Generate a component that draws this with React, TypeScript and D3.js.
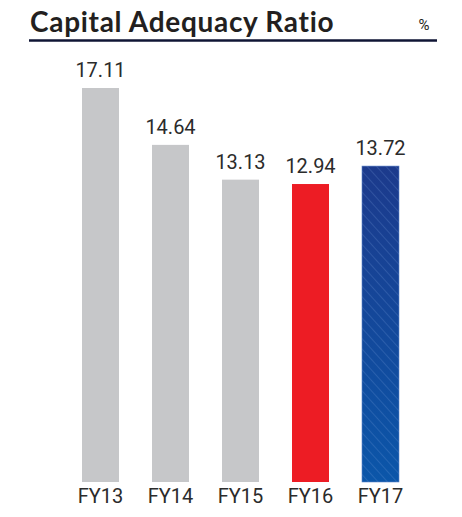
import React from "react";
import * as d3 from "d3";

const categories = ["FY13", "FY14", "FY15", "FY16", "FY17"];
const values = [17.11, 14.64, 13.13, 12.94, 13.72];
const valueLabels = ["17.11", "14.64", "13.13", "12.94", "13.72"];
const barKinds = ["grey", "grey", "grey", "red", "blue"];

const W = 462;
const H = 517;

export default function App() {
  const x = d3.scaleBand<string>().domain(categories).range([82, 399]).paddingInner(0.4714).paddingOuter(0);
  const y = d3.scaleLinear().domain([0, 17.11]).range([482, 88]);
  const fillFor = (k: string) =>
    k === "grey" ? "#c6c7c9" : k === "red" ? "#ed1c24" : "url(#blueGrad)";
  const numFont = "Roboto, 'Noto Sans', sans-serif";
  return (
    <svg
      width={W}
      height={H}
      style={{ position: "absolute", left: 0, top: 0, background: "#fff" }}
    >
      <defs>
        <linearGradient id="blueGrad" x1="0" y1="0" x2="0" y2="1">
          <stop offset="0%" stopColor="#1c3a8c" />
          <stop offset="100%" stopColor="#0b56a9" />
        </linearGradient>
        <pattern
          id="hatch"
          patternUnits="userSpaceOnUse"
          width="7"
          height="7"
          patternTransform="rotate(-42)"
        >
          <line x1="0" y1="0" x2="0" y2="7" stroke="#7ea6e0" strokeWidth="0.8" strokeOpacity="0.55" />
        </pattern>
      </defs>
      <text
        x={30}
        y={32}
        fontFamily="Lato, 'Open Sans', sans-serif"
        fontWeight="bold"
        fontSize={28}
        letterSpacing={0.7}
        fill="#231f20"
      >
        Capital Adequacy Ratio
      </text>
      <text x={424} y={30} fontFamily={numFont} fontSize={15} fill="#231f20" textAnchor="middle">
        %
      </text>
      <line x1={29} x2={437} y1={40.5} y2={40.5} stroke="#0f1535" strokeWidth={2.5} />
      {categories.map((c, i) => {
        const bx = x(c)!;
        const by = y(values[i]);
        const bh = y(0) - by;
        const cx = bx + x.bandwidth() / 2;
        return (
          <g key={c}>
            <rect x={bx} y={by} width={x.bandwidth()} height={bh} fill={fillFor(barKinds[i])} />
            {barKinds[i] === "blue" && (
              <rect
                x={bx}
                y={by}
                width={x.bandwidth()}
                height={bh}
                fill="url(#hatch)"
                stroke="#5b84c8"
                strokeWidth={0.6}
              />
            )}
            <text
              x={cx}
              y={by - 11}
              textAnchor="middle"
              fontFamily={numFont}
              fontSize={20}
              fill="#2b2b2b"
            >
              {valueLabels[i]}
            </text>
            <text
              x={cx}
              y={503}
              textAnchor="middle"
              fontFamily={numFont}
              fontSize={20}
              fill="#2b2b2b"
            >
              {c}
            </text>
          </g>
        );
      })}
    </svg>
  );
}
